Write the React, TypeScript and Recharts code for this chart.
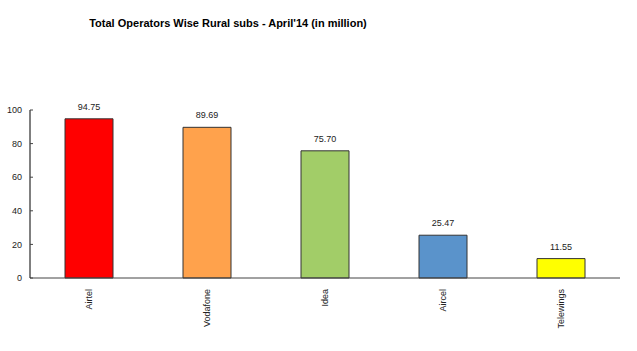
import React from "react";
import { BarChart, Bar, XAxis, YAxis, Cell, LabelList } from "recharts";

const operators = ["Airtel", "Vodafone", "Idea", "Aircel", "Telewings"];
const subscribers = [94.75, 89.69, 75.7, 25.47, 11.55];
const barColors = ["#FF0000", "#FFA24C", "#A2CD68", "#5A93CB", "#FFFF00"];
const yTicks = [0, 20, 40, 60, 80, 100];

const data = operators.map((name, i) => ({ name, value: subscribers[i] }));

const FONT = "'Liberation Sans', Arial, sans-serif";

const XTick = (props: any) => {
  const { x, y, payload } = props;
  return (
    <text
      x={x + 3}
      y={y + 3}
      transform={`rotate(-90, ${x + 3}, ${y + 3})`}
      textAnchor="end"
      fontSize={9}
      fontFamily={FONT}
      fill="#222"
    >
      {payload.value}
    </text>
  );
};

export default function App() {
  return (
    <div style={{ position: "absolute", left: 0, top: 0, width: 637, height: 351, background: "#fff" }}>
      <div
        style={{
          position: "absolute",
          left: 0,
          width: 456,
          top: 17,
          textAlign: "center",
          fontFamily: FONT,
          fontWeight: "bold",
          fontSize: 11,
          color: "#000",
        }}
      >
        Total Operators Wise Rural subs - April'14 (in million)
      </div>
      <BarChart
        width={637}
        height={351}
        data={data}
        margin={{ top: 110, right: 17, left: 0, bottom: 0 }}
        barSize={48}
      >
        <XAxis
          dataKey="name"
          tick={<XTick />}
          tickLine={false}
          axisLine={{ stroke: "#444" }}
          interval={0}
          height={73}
        />
        <YAxis
          width={30}
          domain={[0, 100]}
          ticks={yTicks}
          tick={{ fontSize: 9, fontFamily: FONT, fill: "#222" }}
          tickSize={-3}
          tickMargin={11}
          tickLine={{ stroke: "#444" }}
          axisLine={{ stroke: "#000" }}
        />
        <Bar dataKey="value" isAnimationActive={false} stroke="#333" strokeWidth={1}>
          {data.map((d, i) => (
            <Cell key={d.name} fill={barColors[i]} />
          ))}
          <LabelList
            dataKey="value"
            position="top"
            offset={9}
            formatter={(v: any) => Number(v).toFixed(2)}
            style={{ fontSize: 9, fontFamily: FONT, fill: "#222" }}
          />
        </Bar>
      </BarChart>
    </div>
  );
}
